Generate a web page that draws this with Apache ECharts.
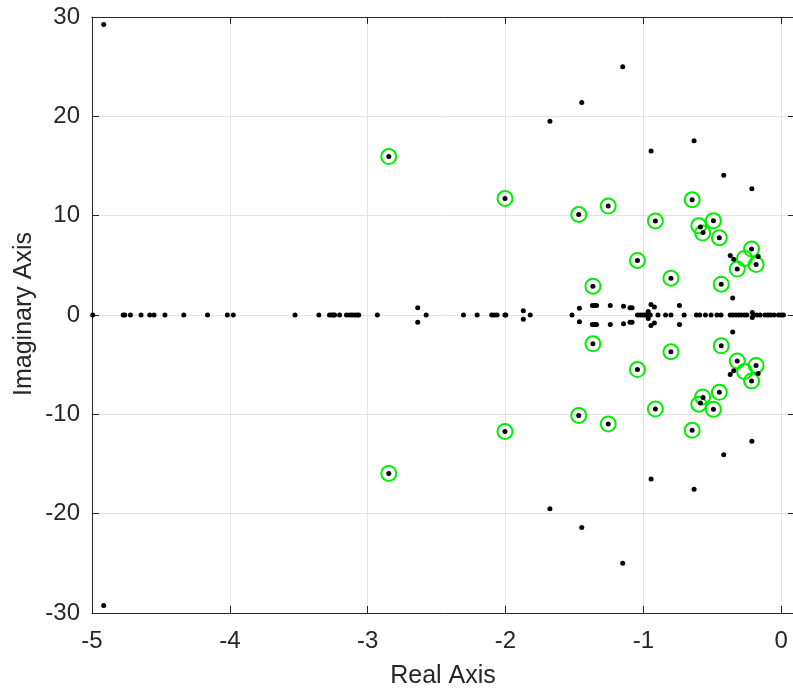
<!DOCTYPE html>
<html>
<head>
<meta charset="utf-8">
<script src="https://cdn.jsdelivr.net/npm/echarts@6/dist/echarts.min.js"></script>
<style>html,body{margin:0;padding:0;background:#fff;overflow:hidden}#c{width:798px;height:690px}</style>
</head>
<body>
<div id="c"></div>
<script>
// x tick labels / y tick labels
const xTicks = [-5, -4, -3, -2, -1, 0];
const yTicks = [-30, -20, -10, 0, 10, 20, 30];

// Zeros (green rings): [real, imag]
const zerosRI = [
  [-2.847, 15.95], [-2.847, -15.95],
  [-2.004, 11.73], [-2.004, -11.73],
  [-1.469, 10.12], [-1.469, -10.12],
  [-1.255, 10.97], [-1.255, -10.97],
  [-0.646, 11.6], [-0.646, -11.6],
  [-0.913, 9.47], [-0.913, -9.47],
  [-0.492, 9.5], [-0.492, -9.5],
  [-0.598, 8.98], [-0.598, -8.98],
  [-0.570, 8.25], [-0.570, -8.25],
  [-0.449, 7.78], [-0.449, -7.78],
  [-0.215, 6.64], [-0.215, -6.64],
  [-0.266, 5.7], [-0.266, -5.7],
  [-0.319, 4.62], [-0.319, -4.62],
  [-0.182, 5.08], [-0.182, -5.08],
  [-1.043, 5.49], [-1.043, -5.49],
  [-0.800, 3.7], [-0.800, -3.7],
  [-1.366, 2.9], [-1.366, -2.9],
  [-0.435, 3.1], [-0.435, -3.1]
];

// Complex poles (black dots): [real, imag]
const complexPoles = [
  [-4.915, 29.25], [-4.915, -29.25],
  [-1.15, 25.0], [-1.15, -25.0],
  [-1.447, 21.4], [-1.447, -21.4],
  [-1.678, 19.5], [-1.678, -19.5],
  [-0.632, 17.55], [-0.632, -17.55],
  [-0.944, 16.5], [-0.944, -16.5],
  [-0.417, 14.07], [-0.417, -14.07],
  [-0.213, 12.7], [-0.213, -12.7],
  [-2.847, 15.95], [-2.847, -15.95],
  [-2.004, 11.73], [-2.004, -11.73],
  [-1.469, 10.12], [-1.469, -10.12],
  [-1.255, 10.97], [-1.255, -10.97],
  [-0.646, 11.6], [-0.646, -11.6],
  [-0.913, 9.47], [-0.913, -9.47],
  [-0.492, 9.5], [-0.492, -9.5],
  [-0.586, 8.85], [-0.586, -8.85],
  [-0.567, 8.3], [-0.567, -8.3],
  [-0.449, 7.78], [-0.449, -7.78],
  [-0.215, 6.64], [-0.215, -6.64],
  [-0.319, 4.62], [-0.319, -4.62],
  [-0.182, 5.08], [-0.182, -5.08],
  [-1.043, 5.49], [-1.043, -5.49],
  [-0.800, 3.7], [-0.800, -3.7],
  [-1.366, 2.9], [-1.366, -2.9],
  [-0.435, 3.1], [-0.435, -3.1],
  [-0.370, 6.0], [-0.370, -6.0],
  [-0.345, 5.6], [-0.345, -5.6],
  [-0.167, 5.9], [-0.167, -5.9],
  [-0.352, 1.7], [-0.352, -1.7],
  [-2.637, 0.74], [-2.637, -0.74],
  [-1.871, 0.43], [-1.871, -0.43],
  [-1.464, 0.68], [-1.464, -0.68],
  [-1.37, 0.95], [-1.37, -0.95],
  [-1.355, 0.95], [-1.355, -0.95],
  [-1.34, 0.95], [-1.34, -0.95],
  [-1.240, 0.95], [-1.240, -0.95],
  [-1.144, 0.88], [-1.144, -0.88],
  [-1.097, 0.74], [-1.097, -0.74],
  [-1.082, 0.74], [-1.082, -0.74],
  [-0.945, 1.05], [-0.945, -1.05],
  [-0.92, 0.8], [-0.92, -0.8],
  [-0.965, 0.35], [-0.965, -0.35],
  [-0.738, 0.96], [-0.738, -0.96],
  [-0.21, 0.25], [-0.21, -0.25]
];

// Real poles (black dots on the real axis)
const realPoles = [
  -4.995, -4.774, -4.762, -4.721, -4.644, -4.581, -4.550, -4.471, -4.334,
  -4.162, -4.018, -3.975, -3.527, -3.354, -3.277, -3.262, -3.250, -3.240,
  -3.204, -3.154, -3.130, -3.113, -3.094, -3.077, -3.065, -2.930, -2.576,
  -2.305, -2.206, -2.100, -2.081, -2.061, -2.004, -1.998, -1.821, -1.518,
  -1.043, -1.024, -1.007, -0.991, -0.976, -0.959, -0.95, -0.894, -0.839,
  -0.800, -0.704, -0.615, -0.591, -0.550, -0.509, -0.466, -0.437, -0.370,
  -0.350, -0.329, -0.309, -0.290, -0.268, -0.249, -0.20, -0.177, -0.153,
  -0.117, -0.095, -0.076, -0.052, -0.020, 0.0, 0.016
];

const FONT = "'Liberation Sans', Arial, Helvetica, sans-serif";
const TXT = '#262626';
const chart = echarts.init(document.getElementById('c'), null, {renderer: 'canvas'});

const fmt = v => Math.abs(v - Math.round(v)) < 1e-6 ? String(Math.round(v)) : '';
const baseAxis = {
  type: 'value',
  axisLine: {show: true, onZero: false, lineStyle: {color: TXT, width: 1}},
  axisTick: {show: true, inside: true, length: 7, lineStyle: {color: TXT}},
};

const polePts = complexPoles.concat(realPoles.map(r => [r, 0]));

chart.setOption({
  animation: false,
  backgroundColor: '#ffffff',
  grid: {left: 92, top: 17, right: 0, bottom: 77, containLabel: false},
  xAxis: [
    Object.assign({}, baseAxis, {
      position: 'bottom', min: -5, max: 0.1, interval: 1,
      axisLabel: {show: true, formatter: fmt, fontSize: 24, color: TXT, fontFamily: FONT, margin: 16},
      splitLine: {show: true, lineStyle: {color: '#e3e3e3', width: 1}}
    }),
    Object.assign({}, baseAxis, {
      position: 'top', min: -5, max: 0.1, interval: 1,
      axisLabel: {show: false}, splitLine: {show: false}
    })
  ],
  yAxis: [
    Object.assign({}, baseAxis, {
      position: 'left', min: yTicks[0], max: yTicks[yTicks.length - 1], interval: 10,
      axisLabel: {show: true, fontSize: 24, color: TXT, fontFamily: FONT, margin: 12},
      splitLine: {show: true, lineStyle: {color: '#e3e3e3', width: 1}}
    }),
    Object.assign({}, baseAxis, {
      position: 'right', min: yTicks[0], max: yTicks[yTicks.length - 1], interval: 10,
      axisLabel: {show: false}, splitLine: {show: false}
    })
  ],
  graphic: [
    {type: 'text', x: 443, y: 676, style: {text: 'Real Axis', fontSize: 25, fontFamily: FONT, fill: TXT, textAlign: 'center', textVerticalAlign: 'middle'}},
    {type: 'text', x: 24, y: 314, rotation: Math.PI / 2, style: {text: 'Imaginary Axis', fontSize: 25, fontFamily: FONT, fill: TXT, textAlign: 'center', textVerticalAlign: 'middle'}}
  ],
  series: [
    {
      type: 'scatter', xAxisIndex: 0, yAxisIndex: 0,
      data: zerosRI, symbol: 'circle', symbolSize: 15,
      itemStyle: {color: 'rgba(0,0,0,0)', borderColor: '#00ee00', borderWidth: 2, opacity: 1},
      emphasis: {disabled: true}, z: 2
    },
    {
      type: 'scatter', xAxisIndex: 0, yAxisIndex: 0,
      data: polePts, symbol: 'circle', symbolSize: 5,
      itemStyle: {color: '#000000', opacity: 1},
      emphasis: {disabled: true}, z: 3
    }
  ]
});
</script>
</body>
</html>
